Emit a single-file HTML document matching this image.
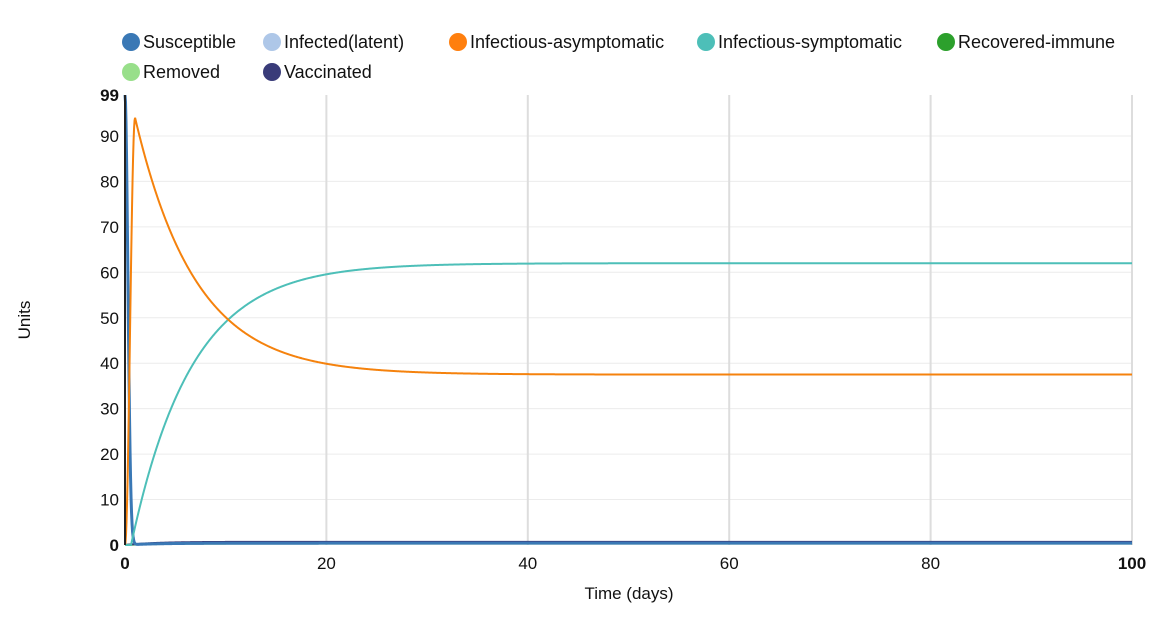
<!DOCTYPE html>
<html><head><meta charset="utf-8"><style>
body{margin:0;background:#fff;font-family:"Liberation Sans",Arial,sans-serif;}
svg text{font-family:"Liberation Sans",Arial,sans-serif;}
</style></head><body>
<svg id="s" width="1171" height="616" xmlns="http://www.w3.org/2000/svg">
<g font-size="18" fill="#111">
<circle cx="131" cy="42" r="9" fill="#3a78b5"/><text x="143" y="48">Susceptible</text>
<circle cx="272" cy="42" r="9" fill="#aec7e8"/><text x="284" y="48">Infected(latent)</text>
<circle cx="458" cy="42" r="9" fill="#ff7f0e"/><text x="470" y="48">Infectious-asymptomatic</text>
<circle cx="706" cy="42" r="9" fill="#4dbfb8"/><text x="718" y="48">Infectious-symptomatic</text>
<circle cx="946" cy="42" r="9" fill="#2ca02c"/><text x="958" y="48">Recovered-immune</text>
<circle cx="131" cy="72" r="9" fill="#98df8a"/><text x="143" y="78">Removed</text>
<circle cx="272" cy="72" r="9" fill="#393b79"/><text x="284" y="78">Vaccinated</text>
</g>
<g id="grid" stroke="#ececec" stroke-width="1"></g>
<g id="lab" font-size="17" fill="#111"></g>
<text x="629" y="599" font-size="17" text-anchor="middle" fill="#111">Time (days)</text>
<text transform="translate(30,320) rotate(-90)" font-size="17" text-anchor="middle" fill="#111">Units</text>
<g id="lines" fill="none" stroke-width="2"></g>
<line x1="125" y1="95" x2="125" y2="545" stroke="#222" stroke-width="2"/>
</svg>
<script>
const X=t=>125+10.07*t, Y=v=>545-4.545*v;
const ns="http://www.w3.org/2000/svg";
function el(p,tag,a,txt){const e=document.createElementNS(ns,tag);for(const k in a)e.setAttribute(k,a[k]);if(txt!==undefined)e.textContent=txt;document.getElementById(p).appendChild(e);}
for(let v=10;v<=90;v+=10){el('grid','line',{x1:125,x2:1132,y1:Y(v),y2:Y(v)});}
for(let t=20;t<=100;t+=20){el('grid','line',{x1:X(t),x2:X(t),y1:95,y2:545,stroke:'#ddd','stroke-width':2});}
for(let v=0;v<=90;v+=10){el('lab','text',{x:119,y:Y(v)+6,'text-anchor':'end','font-weight':v==0?'bold':'normal'},v);}
el('lab','text',{x:119,y:Y(99)+6,'text-anchor':'end','font-weight':'bold'},'99');
for(let t=0;t<=100;t+=20){el('lab','text',{x:X(t),y:569,'text-anchor':'middle','font-weight':(t==0||t==100)?'bold':'normal'},t);}
function path(f,col,w){let d='';for(let t=0;t<=100;t+=0.05){d+=(d?'L':'M')+X(t).toFixed(2)+','+Y(f(t)).toFixed(2);}el('lines','path',{d:d,stroke:col,'stroke-width':w||2});}
path(t=>0.3*(1-Math.exp(-t/3)),'#98df8a');
path(t=>0.5*(1-Math.exp(-t/3)),'#2ca02c');
path(t=>0.7*(1-Math.exp(-t/3)),'#393b79',2);
path(t=>t<0.8?99*Math.exp(-Math.pow(t/0.4,2)):0.4*(1-Math.exp(-t/3))+99*Math.exp(-Math.pow(t/0.4,2)),'#3a78b5',3);
path(t=>t<0.6?0:62*(1-Math.exp(-(t-0.6)/6)),'#4dbfb8');
path(t=>t<1?94*Math.pow(Math.sin(Math.PI/2*t),2):37.5+56.5*Math.exp(-(t-1)/6),'#f5820d');
</script>
</body></html>
